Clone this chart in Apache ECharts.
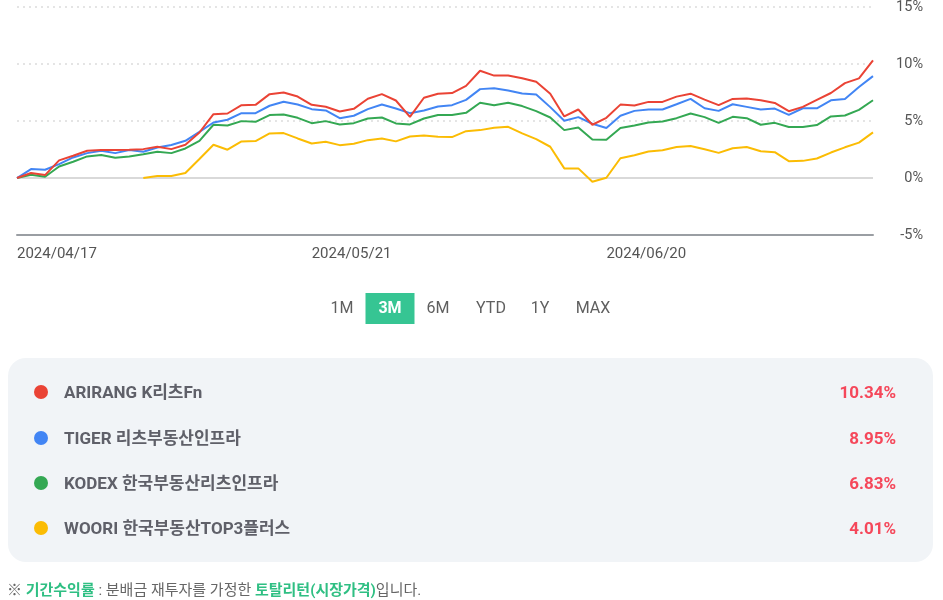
<!DOCTYPE html>
<html><head><meta charset="utf-8">
<script src="https://cdn.jsdelivr.net/npm/echarts@6/dist/echarts.min.js"></script>
<style>html,body{margin:0;padding:0;background:#fff;}#c{width:943px;height:600px;}</style>
</head><body><div id="c"></div>
<script>
const dates = ["2024/04/17","2024/04/18","2024/04/19","2024/04/22","2024/04/23","2024/04/24","2024/04/25","2024/04/26","2024/04/29","2024/04/30",
"2024/05/02","2024/05/03","2024/05/07","2024/05/08","2024/05/09","2024/05/10","2024/05/13","2024/05/14","2024/05/16","2024/05/17",
"2024/05/20","2024/05/21","2024/05/22","2024/05/23","2024/05/24","2024/05/27","2024/05/28","2024/05/29","2024/05/30","2024/05/31",
"2024/06/03","2024/06/04","2024/06/05","2024/06/07","2024/06/10","2024/06/11","2024/06/12","2024/06/13","2024/06/14","2024/06/17",
"2024/06/18","2024/06/19","2024/06/20","2024/06/21","2024/06/24","2024/06/25","2024/06/26","2024/06/27","2024/06/28","2024/07/01",
"2024/07/02","2024/07/03","2024/07/04","2024/07/05","2024/07/08","2024/07/09","2024/07/10","2024/07/11","2024/07/12","2024/07/15",
"2024/07/16","2024/07/17"];

const arirang = [0,0.44,0.26,1.55,1.96,2.4,2.46,2.46,2.49,2.54,
2.75,2.54,2.92,4.0,5.61,5.67,6.4,6.43,7.37,7.51,
7.16,6.43,6.26,5.85,6.08,6.96,7.37,6.81,5.38,7.05,
7.4,7.46,8.1,9.42,9.0,9.0,8.77,8.45,7.4,5.41,
6.02,4.68,5.29,6.45,6.37,6.69,6.69,7.15,7.41,6.89,
6.4,6.95,6.98,6.83,6.6,5.87,6.25,6.86,7.47,8.34,
8.75,10.34];
const tiger = [0,0.79,0.73,1.23,1.81,2.19,2.4,2.19,2.46,2.31,
2.69,2.9,3.27,4.06,4.88,5.12,5.7,5.7,6.35,6.7,
6.46,6.05,5.94,5.26,5.47,6.05,6.46,6.11,5.7,5.94,
6.29,6.4,6.87,7.81,7.89,7.69,7.43,7.34,6.23,5.03,
5.35,4.77,4.39,5.47,5.9,6.02,6.02,6.48,6.95,6.13,
5.9,6.48,6.25,6.02,6.1,5.55,6.13,6.13,6.83,6.95,
7.99,8.95];
const kodex = [0,0.29,0.12,1.02,1.43,1.9,2.02,1.78,1.9,2.1,
2.31,2.19,2.6,3.27,4.68,4.62,5.0,4.94,5.53,5.58,
5.29,4.82,5.0,4.71,4.82,5.23,5.32,4.8,4.71,5.23,
5.53,5.53,5.73,6.61,6.4,6.61,6.32,5.88,5.32,4.21,
4.44,3.39,3.37,4.39,4.62,4.88,4.97,5.26,5.67,5.35,
4.85,5.38,5.26,4.68,4.85,4.48,4.48,4.65,5.41,5.49,
5.99,6.83];
const woori = [null,null,null,null,null,null,null,null,null,0,
0.18,0.18,0.44,1.67,2.92,2.49,3.22,3.25,3.92,3.95,
3.48,3.04,3.19,2.89,3.01,3.33,3.48,3.22,3.65,3.74,
3.63,3.6,4.12,4.21,4.42,4.5,3.92,3.42,2.75,0.85,
0.85,-0.32,0.03,1.74,2.01,2.33,2.44,2.73,2.82,2.53,
2.21,2.62,2.73,2.35,2.27,1.48,1.51,1.72,2.24,2.7,
3.11,4.01];

const seriesNames = ["ARIRANG K리츠Fn","TIGER 리츠부동산인프라","KODEX 한국부동산리츠인프라","WOORI 한국부동산TOP3플러스"];
const seriesColors = ["#EA4335","#4285F4","#34A853","#FBBC04"];
const returns = ["10.34%","8.95%","6.83%","4.01%"];
const periods = ["1M","3M","6M","YTD","1Y","MAX"];
const activePeriod = "3M";
const yTicks = {min:-5,max:15,interval:5};

const allData = [arirang,tiger,kodex,woori];
const FONT = 'Roboto, "Noto Sans CJK KR", sans-serif';

const chart = echarts.init(document.getElementById('c'), null, {renderer:'canvas'});

const graphics = [];
const btnX = [342,390,438,491,540,593];
periods.forEach((p,i)=>{
  const active = p===activePeriod;
  if(active){
    graphics.push({type:'rect',shape:{x:btnX[i]-24.5,y:293,width:49,height:31},style:{fill:'#36C593'},silent:true});
  }
  graphics.push({type:'text',x:btnX[i],y:309,style:{text:p,fill:active?'#ffffff':'#5f5f5f',font:(active?'bold ':'')+'16px '+FONT,textAlign:'center',textVerticalAlign:'middle'},silent:true});
});
graphics.push({type:'rect',shape:{x:8,y:358,width:925,height:204,r:18},style:{fill:'#F1F4F7'},silent:true});
const rowY = [392,438,483,528];
seriesNames.forEach((n,i)=>{
  graphics.push({type:'circle',shape:{cx:41,cy:rowY[i],r:7},style:{fill:seriesColors[i]},silent:true});
  graphics.push({type:'text',x:64,y:rowY[i]+2,style:{text:n,fill:'#5f6069',font:'bold 17px '+FONT,textVerticalAlign:'middle'},silent:true});
  graphics.push({type:'text',x:896,y:rowY[i]+2,style:{text:returns[i],fill:'#F5475A',font:'bold 17px '+FONT,textAlign:'right',textVerticalAlign:'middle'},silent:true});
});
graphics.push({type:'text',x:7,y:591,style:{
  text:'{g|※ }{h|기간수익률}{g| : 분배금 재투자를 가정한 }{h|토탈리턴(시장가격)}{g|입니다.}',
  rich:{g:{fill:'#666',font:'15px '+FONT},h:{fill:'#2FBF83',font:'bold 15px '+FONT}},
  textVerticalAlign:'middle'},silent:true});

chart.setOption({
  animation:false,
  grid:{left:17,right:70,top:7,bottom:365,containLabel:false},
  xAxis:{type:'category',data:dates,boundaryGap:false,
    axisLine:{onZero:false,lineStyle:{color:'#9a9ea3',width:2}},
    axisTick:{show:false},
    axisLabel:{interval:20,align:'left',margin:12,color:'#555',fontSize:15,fontFamily:FONT},
    splitLine:{show:false}},
  yAxis:{type:'value',position:'right',min:yTicks.min,max:yTicks.max,interval:yTicks.interval,
    axisLine:{show:false},axisTick:{show:false},
    axisLabel:{formatter:'{value}%',align:'right',margin:50,color:'#555',fontSize:14.5,fontFamily:FONT},
    splitLine:{lineStyle:{type:[2,4],color:'#dcdcdc',width:1.5}}},
  series: allData.map((d,i)=>({
    name:seriesNames[i],type:'line',data:d,showSymbol:false,symbol:'none',
    lineStyle:{color:seriesColors[i],width:2},itemStyle:{color:seriesColors[i]},
    z:10-i,
    markLine: i===0 ? {silent:true,symbol:'none',label:{show:false},lineStyle:{color:'#d9d9d9',type:'solid',width:2},data:[{yAxis:0}],z:1} : undefined
  })),
  graphic:graphics
});
</script></body></html>
